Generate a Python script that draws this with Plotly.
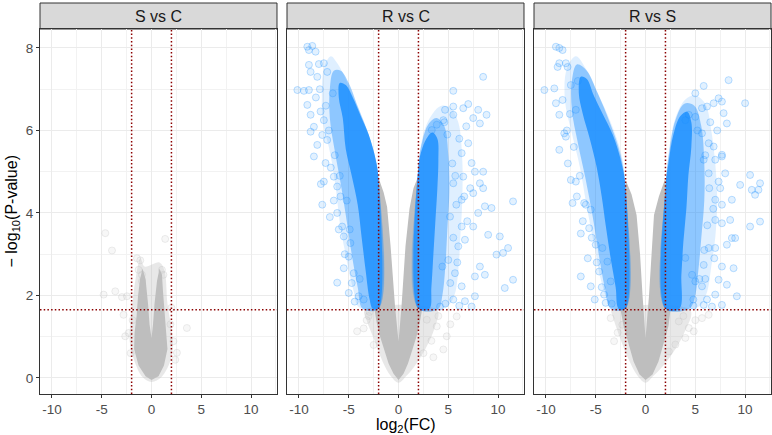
import plotly.graph_objects as go

# panel titles
panels = ["S vs C", "R vs C", "R vs S"]

x_ticks = [-10, -5, 0, 5, 10]
x_ticktext = ["-10", "-5", "0", "5", "10"]
y_ticks = [0, 2, 4, 6, 8]
fc_cut = 2.0
p_cut = 1.65

# --- S vs C : only non-significant (grey) genes
sc_gray_core = [[0, -0.05], [-0.6, 0.04], [-1.3, 0.3], [-1.75, 0.7], [-1.7, 1.1], [-1.5, 1.5],
                [-1.35, 2.0], [-1.15, 2.4], [-0.9, 2.65], [-0.6, 2.4], [-0.35, 1.8], [-0.2, 1.3],
                [0, 0.97], [0.15, 1.3], [0.3, 1.8], [0.55, 2.35], [0.8, 2.65], [1.05, 2.5],
                [1.15, 2.1], [1.3, 1.6], [1.5, 1.1], [1.6, 0.7], [1.25, 0.3], [0.7, 0.04]]
sc_gray_halo = [[0, -0.1], [-0.9, 0.02], [-1.7, 0.4], [-2.2, 0.9], [-2.0, 1.6], [-1.6, 2.4],
                [-1.1, 2.9], [-0.7, 2.7], [0.8, 2.8], [1.3, 2.6], [1.6, 1.8], [2.1, 1.0],
                [2.0, 0.5], [1.0, 0.02]]
sc_gray_pts = [[-4.64, 3.51], [-3.97, 3.09], [-4.81, 2.02], [-3.64, 2.10], [-2.97, 1.96],
               [-2.47, 1.98], [-2.81, 1.53], [-2.3, 1.09], [-2.64, 1.01], [-1.3, 2.62],
               [-1.46, 2.90], [-1.13, 2.85], [-0.96, 2.50], [-0.96, 2.34], [1.04, 2.62],
               [1.2, 2.50], [1.37, 3.37], [2.2, 0.89], [2.55, 0.61], [2.38, 0.44],
               [3.55, 1.21], [1.9, 1.3], [2.0, 1.7], [-2.1, 0.6], [-1.9, 1.4]]

# --- R vs C
rc_gray_core = [[0, -0.05], [-0.5, 0.1], [-1.0, 0.35], [-1.4, 0.65], [-1.85, 1.0], [-2.2, 1.35],
                [-2.4, 1.64], [-2.0, 1.66], [-2.0, 4.85], [-1.5, 4.5], [-1.15, 4.15], [-0.8, 3.2],
                [-0.35, 1.73], [0, 0.88], [0.3, 1.73], [0.7, 3.2], [1.1, 4.1], [1.5, 4.6],
                [2.0, 4.9], [2.0, 1.66], [2.35, 1.64], [2.1, 1.3], [1.8, 1.0], [1.35, 0.65],
                [0.95, 0.35], [0.5, 0.1]]
rc_gray_halo = [[0, -0.12], [-0.8, 0.05], [-1.6, 0.4], [-2.4, 0.9], [-3.2, 1.4], [-3.4, 1.64],
                [3.9, 1.64], [3.6, 1.2], [2.9, 0.8], [1.8, 0.35], [0.8, 0.05]]
rc_gray_pts = [[-4.16, 1.13], [-3.2, 1.4], [-2.9, 1.6], [-3.0, 1.5], [2.84, 1.41], [3.84, 1.25],
               [4.84, 1.01], [5.84, 1.49], [4.5, 0.69], [2.5, 0.6], [3.3, 0.9], [4.0, 1.5],
               [-2.5, 0.8], [-3.5, 1.2], [5.2, 1.3], [3.5, 0.5]]
rc_left_core = [[-2.0, 1.68], [-2.0, 4.8], [-2.3, 5.3], [-3.0, 5.9], [-3.8, 6.35], [-4.6, 6.8],
                [-5.3, 7.1], [-5.9, 7.15], [-6.0, 6.8], [-5.6, 6.3], [-5.3, 5.55], [-4.7, 4.9],
                [-4.1, 4.2], [-3.7, 3.4], [-3.3, 2.6], [-2.9, 1.9], [-2.6, 1.68]]
rc_left_mid = [[-2.0, 1.68], [-2.0, 4.8], [-2.45, 5.45], [-3.3, 6.1], [-4.2, 6.65], [-5.0, 7.15],
               [-5.8, 7.45], [-6.5, 7.45], [-6.9, 7.0], [-6.9, 6.3], [-6.4, 5.5], [-5.8, 4.7],
               [-5.2, 3.8], [-4.7, 3.0], [-4.1, 2.2], [-3.6, 1.68]]
rc_left_halo = [[-2.0, 1.68], [-2.0, 4.8], [-2.5, 5.45], [-3.3, 6.0], [-4.0, 6.5], [-4.8, 6.95],
                [-5.5, 7.35], [-6.2, 7.65], [-6.8, 7.8], [-7.5, 7.5], [-7.7, 6.8], [-7.6, 6.2],
                [-7.0, 5.6], [-6.6, 5.1], [-6.3, 4.6], [-5.8, 3.6], [-5.4, 3.1], [-5.0, 2.6],
                [-4.5, 2.1], [-4.0, 1.72]]
rc_right_core = [[2.0, 1.68], [2.0, 5.12], [2.3, 5.5], [2.8, 5.8], [3.4, 5.95], [3.9, 5.8],
                 [4.0, 5.3], [3.9, 4.6], [3.7, 3.8], [3.5, 3.0], [3.3, 2.2], [3.1, 1.68]]
rc_right_mid = [[2.0, 1.68], [2.0, 5.12], [2.4, 5.75], [3.0, 6.15], [3.8, 6.3], [4.6, 6.1],
                [5.0, 5.4], [5.1, 4.5], [4.9, 3.6], [4.7, 2.7], [4.4, 2.0], [4.0, 1.68]]
rc_right_halo = [[2.0, 1.68], [2.0, 5.12], [2.6, 6.0], [3.4, 6.4], [4.3, 6.6], [5.2, 6.55],
                 [6.0, 6.2], [6.4, 5.3], [6.4, 4.3], [6.2, 3.4], [6.0, 2.6], [5.6, 2.0],
                 [4.8, 1.72]]
rc_blue_pts = [[-9.16, 8.03], [-8.66, 8.05], [-8.33, 7.91], [-9.0, 7.95], [-9.0, 7.59],
               [-8.0, 7.61], [-7.5, 7.63], [-7.16, 7.42], [-8.16, 7.30], [-8.83, 7.42],
               [-10.16, 6.98], [-9.5, 6.96], [-9.0, 6.98], [-9.16, 6.62], [-8.83, 6.38],
               [-7.83, 6.46], [-8.5, 6.09], [-8.83, 5.97], [-7.5, 6.25], [-7.66, 5.89],
               [-8.16, 5.65], [-8.5, 5.37], [-7.16, 5.77], [-7.33, 5.21], [-7.5, 4.76],
               [-6.5, 4.88], [-6.16, 4.64], [-7.66, 4.20], [-6.9, 3.9], [-5.83, 4.40],
               [-6.16, 4.00], [-5.66, 3.67], [-5.5, 3.43], [-4.83, 3.27], [-5.0, 2.94],
               [-5.5, 2.66], [-6.16, 2.31], [-4.5, 2.54], [-4.0, 1.98], [-5.0, 2.06],
               [-6.8, 5.1], [-7.8, 4.7], [-6.5, 4.3], [-6.0, 3.6], [-5.4, 3.0], [-4.7, 2.3],
               [-4.4, 1.85], [-7.0, 6.0], [-6.4, 5.4], [-7.3, 6.6], [-6.6, 6.9], [-5.9, 4.9],
               [-5.2, 4.3], [-4.9, 3.6], [-3.9, 2.4], [-3.5, 1.9], [-8.3, 6.8], [-7.9, 7.0],
               [4.67, 6.50], [5.5, 6.58], [6.5, 6.54], [7.0, 6.64], [8.0, 6.50], [8.84, 6.38],
               [7.5, 6.30], [8.17, 6.17], [5.5, 6.38], [4.5, 6.25], [3.84, 6.14], [3.34, 6.01],
               [7.0, 5.69], [6.34, 5.45], [7.34, 5.21], [7.67, 5.0], [8.5, 5.0], [8.17, 4.72],
               [8.5, 4.60], [7.5, 4.48], [11.5, 4.28], [9.34, 4.12], [8.67, 4.16], [8.0, 4.0],
               [7.5, 3.67], [9.0, 3.47], [10.17, 3.43], [9.84, 2.99], [10.5, 3.03], [11.0, 3.15],
               [8.17, 2.70], [8.67, 2.50], [7.67, 2.46], [11.5, 2.38], [10.67, 2.18],
               [7.67, 1.98], [6.67, 1.86], [5.5, 1.90], [4.17, 1.73], [7.34, 1.73], [6.34, 2.22],
               [5.67, 2.54], [5.0, 2.86], [6.0, 3.19], [6.67, 3.35], [6.34, 3.67], [5.17, 3.91],
               [6.34, 4.32], [5.5, 4.72], [6.5, 4.88], [8.5, 7.30], [5.5, 6.96],
               [4.9, 5.9], [5.4, 5.2], [5.8, 4.2], [5.5, 3.4], [5.2, 2.3], [4.7, 1.8],
               [6.1, 5.8], [6.6, 4.4], [6.9, 3.8], [5.9, 2.8], [4.6, 6.2], [6.8, 6.1],
               [7.2, 4.6], [6.1, 1.75], [5.7, 4.9], [4.4, 2.7]]

# --- R vs S
rs_gray_core = [[0, -0.05], [-0.6, 0.08], [-1.2, 0.4], [-1.7, 0.8], [-2.2, 1.25], [-2.5, 1.64],
                [-2.0, 1.66], [-2.0, 4.8], [-1.4, 4.45], [-0.9, 3.95], [-0.55, 3.0], [-0.3, 2.0],
                [0, 0.97], [0.35, 2.0], [0.6, 3.0], [0.85, 3.95], [1.34, 4.4], [2.0, 4.85],
                [2.0, 1.66], [2.5, 1.64], [2.3, 1.25], [1.8, 0.8], [1.3, 0.4], [0.7, 0.08]]
rs_gray_halo = [[0, -0.12], [-0.8, 0.05], [-1.7, 0.45], [-2.6, 1.0], [-3.3, 1.5], [-3.4, 1.64],
                [4.5, 1.64], [3.9, 1.1], [3.0, 0.7], [1.8, 0.3], [0.8, 0.05]]
rs_gray_pts = [[-3.16, 0.89], [-3.5, 1.45], [-2.33, 1.29], [3.34, 1.37], [4.34, 1.21],
               [4.84, 1.13], [5.67, 1.45], [6.34, 1.53], [3.0, 0.81], [2.34, 0.64], [4.0, 0.97],
               [-2.8, 1.1], [3.8, 1.5], [5.0, 1.4]]
rs_left_core = [[-2.0, 1.68], [-2.0, 4.6], [-2.4, 5.2], [-3.3, 5.9], [-4.3, 6.4], [-5.2, 6.85],
                [-5.9, 7.25], [-6.5, 7.3], [-6.7, 6.9], [-6.3, 6.4], [-5.6, 5.8], [-4.9, 5.1],
                [-4.4, 4.4], [-4.0, 3.7], [-3.5, 2.9], [-3.0, 2.2], [-2.7, 1.68]]
rs_left_mid = [[-2.0, 1.68], [-2.0, 4.6], [-2.5, 5.4], [-3.6, 6.2], [-4.8, 6.9], [-5.9, 7.45],
               [-6.9, 7.6], [-7.4, 7.2], [-7.4, 6.5], [-6.8, 5.7], [-6.0, 4.8], [-5.3, 3.9],
               [-4.7, 3.0], [-4.1, 2.2], [-3.5, 1.68]]
rs_left_halo = [[-2.0, 1.68], [-2.0, 4.6], [-2.4, 5.4], [-3.5, 6.2], [-4.8, 6.9], [-6.0, 7.5],
                [-7.0, 7.8], [-7.9, 7.5], [-8.1, 6.74], [-7.4, 5.93], [-6.6, 5.12],
                [-5.9, 4.15], [-5.1, 3.15], [-4.4, 2.3], [-3.4, 1.72]]
rs_right_core = [[2.0, 1.68], [2.0, 4.6], [2.3, 5.2], [2.8, 5.9], [3.5, 6.35], [4.2, 6.45],
                 [4.6, 6.2], [4.6, 5.6], [4.3, 4.9], [4.1, 4.1], [3.8, 3.3], [3.6, 2.5],
                 [3.4, 1.68]]
rs_right_mid = [[2.0, 1.68], [2.0, 4.6], [2.4, 5.5], [3.0, 6.25], [3.9, 6.65], [4.9, 6.6],
                [5.6, 6.1], [5.9, 5.2], [5.9, 4.3], [5.6, 3.4], [5.3, 2.6], [4.9, 1.9],
                [4.4, 1.68]]
rs_right_halo = [[2.0, 1.68], [2.0, 4.6], [2.4, 5.6], [3.0, 6.3], [4.0, 6.75], [5.0, 6.85],
                 [6.0, 6.65], [6.6, 6.0], [7.0, 5.2], [7.2, 4.3], [7.0, 3.4], [6.6, 2.7],
                 [6.2, 2.1], [5.5, 1.75], [4.5, 1.68]]
rs_blue_pts = [[-9.0, 8.03], [-8.33, 7.95], [-8.66, 8.0], [-8.83, 7.54], [-8.66, 7.63],
               [-8.0, 7.63], [-7.83, 7.54], [-10.16, 6.98], [-9.16, 7.02], [-9.0, 6.66],
               [-8.33, 6.74], [-8.66, 6.38], [-8.16, 5.93], [-8.0, 5.85], [-8.66, 5.53],
               [-7.5, 4.80], [-7.0, 4.76], [-7.33, 4.24], [-6.16, 4.24], [-5.5, 4.08],
               [-6.5, 2.46], [-5.5, 2.22], [-4.16, 2.02], [-4.0, 1.82], [-5.0, 3.23],
               [-4.33, 3.15], [-5.66, 3.63], [-4.66, 2.58], [-3.83, 2.82], [-3.5, 2.34],
               [-7.8, 5.2], [-7.0, 6.5], [-6.5, 3.5],
               [-7.6, 6.4], [-7.2, 5.6], [-6.6, 4.9], [-6.0, 4.2], [-5.4, 3.4], [-4.9, 2.8],
               [-4.4, 2.2], [-3.4, 1.8], [-6.8, 7.2], [-7.5, 7.1], [-6.3, 3.8], [-5.8, 2.9],
               [-6.9, 4.4], [-7.9, 6.0], [-5.1, 1.9],
               [8.34, 7.22], [5.84, 7.08], [7.34, 6.78], [7.67, 6.70], [6.84, 6.66],
               [6.17, 6.58], [5.67, 6.54], [7.84, 6.42], [10.0, 6.66], [4.34, 6.38],
               [5.0, 6.33], [4.0, 6.25], [8.17, 6.17], [5.67, 5.93], [6.34, 5.69], [6.84, 5.61],
               [7.0, 5.29], [7.67, 5.37], [5.84, 5.29], [6.34, 4.96], [7.67, 5.41], [8.0, 4.96],
               [7.34, 4.76], [10.5, 4.92], [9.5, 4.68], [11.5, 4.72], [11.34, 4.56],
               [10.67, 4.56], [11.0, 4.44], [8.67, 4.32], [7.0, 4.32], [7.67, 4.20],
               [11.5, 3.79], [10.5, 3.67], [8.5, 3.83], [7.67, 3.75], [7.0, 3.83], [9.0, 3.39],
               [8.67, 3.39], [8.17, 3.23], [7.0, 3.15], [6.34, 3.15], [5.84, 2.74], [7.67, 2.70],
               [8.84, 2.66], [7.34, 2.38], [8.17, 2.26], [9.17, 1.98], [7.0, 2.02], [6.17, 1.90],
               [5.84, 1.77], [6.67, 1.73], [7.67, 1.77], [5.0, 2.34], [5.67, 2.22], [4.0, 2.91],
               [4.67, 2.50],
               [5.2, 6.0], [6.0, 5.4], [6.4, 4.6], [6.2, 3.7], [5.9, 3.1], [5.4, 2.4],
               [4.8, 1.9], [6.8, 4.1], [6.5, 6.2], [7.2, 6.0], [6.9, 2.9], [5.0, 6.9],
               [7.5, 4.6], [6.0, 2.4], [4.8, 1.75]]

BLUE = "30,144,255"
GREY = "190,190,190"

fig = go.Figure()


def add_area(i, pts, rgb, alpha, smooth=True):
    xs = [p[0] for p in pts] + [pts[0][0]]
    ys = [p[1] for p in pts] + [pts[0][1]]
    fig.add_trace(go.Scatter(x=xs, y=ys, mode="lines", fill="toself",
                             fillcolor=f"rgba({rgb},{alpha})",
                             line=dict(width=0, color="rgba(0,0,0,0)",
                                       shape="spline" if smooth else "linear"),
                             hoverinfo="skip", xaxis=f"x{i}", yaxis=f"y{i}"))


def add_points(i, pts, rgb):
    fig.add_trace(go.Scatter(x=[p[0] for p in pts], y=[p[1] for p in pts], mode="markers",
                             marker=dict(size=7, color=f"rgba({rgb},0.13)",
                                         line=dict(width=1, color=f"rgba({rgb},0.28)")),
                             hoverinfo="skip", xaxis=f"x{i}", yaxis=f"y{i}"))


groups = [
    (1, sc_gray_halo, sc_gray_core, sc_gray_pts, None),
    (2, rc_gray_halo, rc_gray_core, rc_gray_pts,
     [(rc_left_halo, rc_left_mid, rc_left_core), (rc_right_halo, rc_right_mid, rc_right_core),
      rc_blue_pts]),
    (3, rs_gray_halo, rs_gray_core, rs_gray_pts,
     [(rs_left_halo, rs_left_mid, rs_left_core), (rs_right_halo, rs_right_mid, rs_right_core),
      rs_blue_pts]),
]

for i, g_halo, g_core, g_pts, blue in groups:
    add_area(i, g_halo, GREY, 0.35)
    add_points(i, g_pts, GREY)
    add_area(i, g_core, GREY, 1.0, smooth=False)
    if blue:
        for halo, mid, core in blue[:2]:
            add_area(i, halo, BLUE, 0.14)
            add_area(i, mid, BLUE, 0.42)
            add_area(i, core, BLUE, 0.85)
        add_points(i, blue[2], BLUE)

# layout
top = 0.9335
doms = [[0, 0.3242], [0.3379, 0.6621], [0.6758, 1.0]]
axis_common = dict(showline=True, mirror=True, linecolor="#333333", linewidth=1,
                   zeroline=False, showgrid=True, gridcolor="#ebebeb", gridwidth=1,
                   tickcolor="#333333", ticklen=3,
                   tickfont=dict(size=13.5, color="#4d4d4d"))
layout = dict(width=772, height=435, margin=dict(l=40, r=1, t=3, b=41),
              plot_bgcolor="white", paper_bgcolor="white", showlegend=False,
              font=dict(family="Liberation Sans, Arial, sans-serif", color="#4d4d4d"))
shapes = []
annotations = []
for i in range(1, 4):
    sfx = "" if i == 1 else str(i)
    layout["xaxis" + sfx] = dict(axis_common, domain=doms[i - 1], anchor="y" + sfx,
                                 range=[-11.2, 12.6], tickvals=x_ticks, ticktext=x_ticktext,
                                 ticks="outside",
                                 minor=dict(dtick=2.5, tick0=0, showgrid=True,
                                            gridcolor="#f2f2f2", gridwidth=0.6))
    layout["yaxis" + sfx] = dict(axis_common, domain=[0, top], anchor="x" + sfx,
                                 range=[-0.39, 8.46], tickvals=y_ticks,
                                 ticks="outside" if i == 1 else "",
                                 showticklabels=(i == 1),
                                 minor=dict(dtick=1, tick0=0, showgrid=True,
                                            gridcolor="#f2f2f2", gridwidth=0.6))
    line_style = dict(color="#8b0000", width=1.5, dash="1.5px,2.2px")
    for v in (-fc_cut, fc_cut):
        shapes.append(dict(type="line", xref="x" + sfx, yref="y" + sfx + " domain",
                           x0=v, x1=v, y0=0, y1=1, line=line_style))
    shapes.append(dict(type="line", xref="x" + sfx + " domain", yref="y" + sfx,
                       x0=0, x1=1, y0=p_cut, y1=p_cut, line=line_style))
    # facet strip
    shapes.append(dict(type="rect", xref="paper", yref="paper",
                       x0=doms[i - 1][0], x1=doms[i - 1][1], y0=top, y1=1.0,
                       fillcolor="#d9d9d9", line=dict(color="#333333", width=1), layer="below"))
    annotations.append(dict(text=panels[i - 1], xref="paper", yref="paper",
                            x=sum(doms[i - 1]) / 2, y=(top + 1) / 2, showarrow=False,
                            xanchor="center", yanchor="middle",
                            font=dict(size=16, color="#1a1a1a")))

annotations.append(dict(text="log<sub>2</sub>(FC)", xref="paper", yref="paper", x=0.5, y=-0.08,
                        showarrow=False, xanchor="center", yanchor="middle",
                        font=dict(size=16, color="#000000")))
annotations.append(dict(text="− log<sub>10</sub>(P-value)", xref="paper", yref="paper",
                        x=-0.0383, y=top / 2, textangle=-90, showarrow=False,
                        xanchor="center", yanchor="middle",
                        font=dict(size=16, color="#000000")))
layout["shapes"] = shapes
layout["annotations"] = annotations
fig.update_layout(**layout)

# the page body has a default 8px margin; remove it so the figure fills the window
fig.write_html("out.html", config={"displayModeBar": False},
               post_script="document.body.style.margin='0';")
